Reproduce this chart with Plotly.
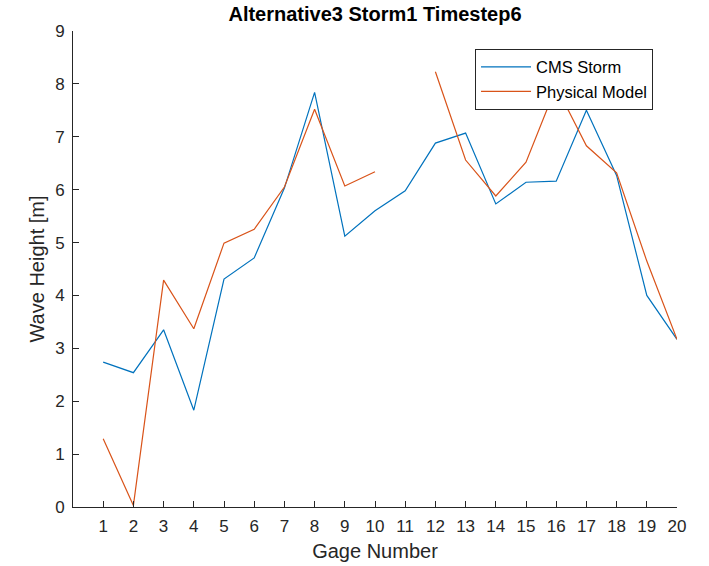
import plotly.graph_objects as go

gages = list(range(1, 21))
cms_storm = [2.74, 2.54, 3.35, 1.83, 4.31, 4.71, 6.03, 7.84, 5.12, 5.60,
             5.98, 6.88, 7.07, 5.73, 6.14, 6.16, 7.50, 6.27, 4.00, 3.17]
physical_model = [1.29, 0.03, 4.29, 3.37, 4.99, 5.25, 6.05, 7.52, 6.07, 6.34,
                  None, 8.23, 6.56, 5.88, 6.52, 7.95, 6.83, 6.32, 4.65, 3.17]
x_ticks = list(range(1, 21))
y_ticks = list(range(0, 10))

axis_color = "#262626"
font_family = "Liberation Sans, Arial, sans-serif"

fig = go.Figure()
fig.add_trace(go.Scatter(x=gages, y=cms_storm, mode="lines", name="CMS Storm",
                         line=dict(color="#0072BD", width=1.2)))
fig.add_trace(go.Scatter(x=gages, y=physical_model, mode="lines", name="Physical Model",
                         line=dict(color="#D95319", width=1.2), connectgaps=False))

fig.update_layout(
    width=709, height=566,
    margin=dict(l=73, r=32, t=31, b=59),
    paper_bgcolor="white", plot_bgcolor="white",
    font=dict(family=font_family, color=axis_color, size=17),
    title=dict(text="<b>Alternative3 Storm1 Timestep6</b>", x=0.5, xref="paper",
               y=0.975, yanchor="middle", font=dict(size=20, color="black"),
               automargin=False),
    showlegend=True,
    legend=dict(x=0.6656, y=0.963, xanchor="left", yanchor="top",
                bgcolor="white", bordercolor=axis_color, borderwidth=1,
                font=dict(size=16.5, color="black"), tracegroupgap=0,
                itemwidth=50),
)
fig.update_xaxes(range=[0, 20], tickvals=x_ticks, ticks="inside", ticklen=6,
                 tickcolor=axis_color, showline=True, linecolor=axis_color, linewidth=1,
                 showgrid=False, zeroline=False, mirror=False, automargin=False,
                 title=dict(text="Gage Number", font=dict(size=20), standoff=8),
                 tickfont=dict(size=17), ticklabelstandoff=4)
fig.update_yaxes(range=[0, 9], tickvals=y_ticks, ticks="inside", ticklen=6,
                 tickcolor=axis_color, showline=True, linecolor=axis_color, linewidth=1,
                 showgrid=False, zeroline=False, mirror=False, automargin=False,
                 title=dict(text="Wave Height [m]", font=dict(size=20), standoff=5),
                 tickfont=dict(size=17), ticklabelstandoff=4)

fig.write_html("out.html")
